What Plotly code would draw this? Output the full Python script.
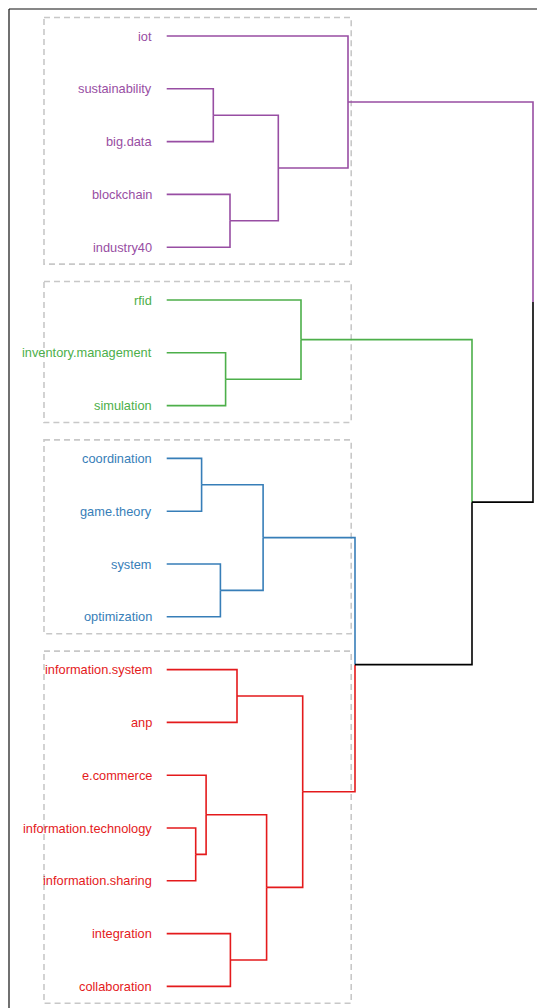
import plotly.graph_objects as go

# leaves in display order (top to bottom)
labels = ["iot", "sustainability", "big.data", "blockchain", "industry40",
          "rfid", "inventory.management", "simulation",
          "coordination", "game.theory", "system", "optimization",
          "information.system", "anp", "e.commerce", "information.technology",
          "information.sharing", "integration", "collaboration"]
clusters = [1, 1, 1, 1, 1, 2, 2, 2, 3, 3, 3, 3, 4, 4, 4, 4, 4, 4, 4]
cluster_colors = {1: "#984EA3", 2: "#4DAF4A", 3: "#377EB8", 4: "#E41A1C"}

# hclust-style merge table: negative = leaf (1-based), positive = earlier step
merge_left = [-16, -9, -15, -2, -11, -7, -4, -18, -13, 2, 3, 4, -6, 9, -1, 10, 13, 15]
merge_right = [-17, -10, 1, -3, -12, -8, -5, -19, -14, 5, 8, 7, 6, 11, 12, 14, 16, 17]
merge_height = [0.290, 0.349, 0.394, 0.466, 0.537, 0.589, 0.633, 0.637, 0.703,
                0.964, 0.999, 1.116, 1.343, 1.360, 1.813, 1.883, 3.053, 3.663]

pos = {}
col = {}
hgt = {}
for i, lab in enumerate(labels):
    key = -(i + 1)
    pos[key] = i + 1
    col[key] = cluster_colors[clusters[i]]
    hgt[key] = 0.0

fig = go.Figure()

def add_seg(xs, ys, color):
    fig.add_trace(go.Scatter(x=xs, y=ys, mode="lines",
                             line=dict(color=color, width=1.6),
                             hoverinfo="skip", showlegend=False))

for step, (a, b, h) in enumerate(zip(merge_left, merge_right, merge_height), start=1):
    y_node = (pos[a] + pos[b]) / 2
    for child in (a, b):
        # vertical half at the node height, then horizontal out to the child
        add_seg([h, h, hgt[child]], [y_node, pos[child], pos[child]], col[child])
    pos[step] = y_node
    hgt[step] = h
    col[step] = col[a] if col[a] == col[b] else "black"

# dashed boxes around the four clusters
for c in cluster_colors:
    ys = [i + 1 for i, k in enumerate(clusters) if k == c]
    fig.add_shape(type="rect", x0=-1.227, x1=1.845, y0=min(ys) - 0.35, y1=max(ys) + 0.32,
                  line=dict(color="#C8C8C8", width=1.6, dash="6px,4px"), layer="below")

for i, lab in enumerate(labels):
    fig.add_annotation(x=-0.127, y=i + 1, text=lab, showarrow=False, xanchor="right",
                       font=dict(family="Liberation Sans, Arial", size=12.8,
                                 color=cluster_colors[clusters[i]]))

# panel frame (only left and top are inside the picture)
fig.add_shape(type="line", xref="paper", yref="paper", x0=0, x1=0, y0=0, y1=1,
              line=dict(color="#111111", width=1.2))
fig.add_shape(type="line", xref="paper", yref="paper", x0=0, x1=1, y0=1, y1=1,
              line=dict(color="#111111", width=1.2))

fig.update_xaxes(range=[-1.577, 3.783], visible=False)
fig.update_yaxes(range=[19.409, 0.4886], visible=False)
# page body adds an 8px margin, so the figure is sized to fill the rest
fig.update_layout(width=537, height=1000, margin=dict(l=1, r=0, t=1, b=0),
                  plot_bgcolor="white", paper_bgcolor="white")

fig.write_html("out.html")
